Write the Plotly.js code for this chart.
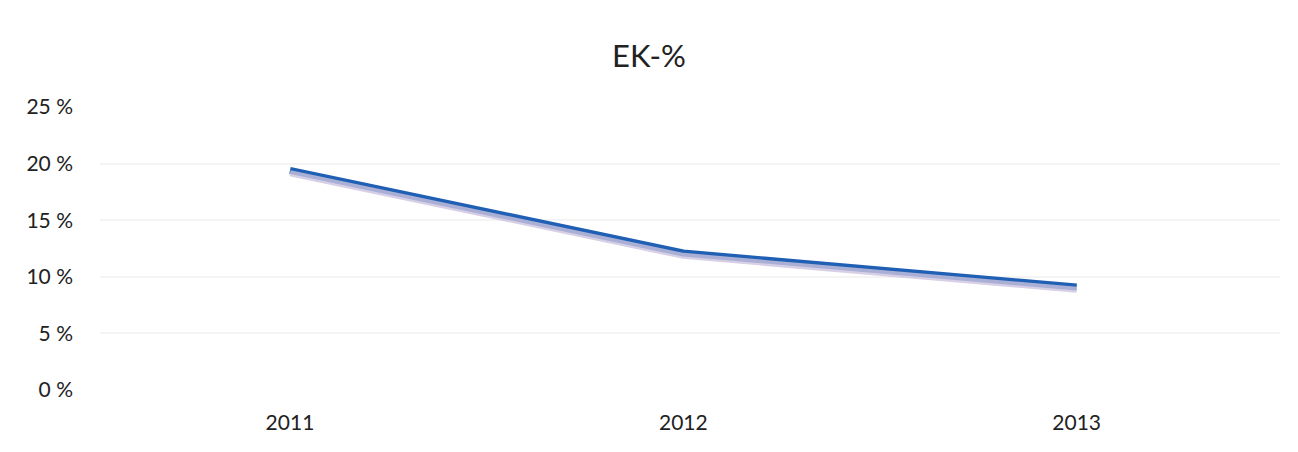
<!DOCTYPE html>
<html>
<head>
<meta charset="utf-8">
<script src="https://cdn.plot.ly/plotly-3.0.1.min.js"></script>
<style>html,body{margin:0;padding:0;background:#fff;}#chart{width:1298px;height:452px;}</style>
</head>
<body>
<div id="chart"></div>
<script>
const years = ["2011", "2012", "2013"];
const ekPercent = [19.4, 12.1, 9.1];
const yTickVals = [0, 5, 10, 15, 20, 25];
const yTickText = ["0 %", "5 %", "10 %", "15 %", "20 %", "25 %"];

const fontFam = "Lato, 'Open Sans', sans-serif";

const shadow = {
  x: years, y: ekPercent, type: "scatter", mode: "lines",
  line: {color: "rgba(205,195,222,0.8)", width: 6},
  xaxis: "x", yaxis: "y2", hoverinfo: "skip", showlegend: false
};
const main = {
  x: years, y: ekPercent, type: "scatter", mode: "lines",
  line: {color: "#1f5fb4", width: 7},
  showlegend: false
};

const layout = {
  width: 1298, height: 452,
  margin: {l: 100, r: 18, t: 107, b: 62},
  paper_bgcolor: "#fff", plot_bgcolor: "#fff",
  title: {text: "EK-%", x: 0.5, xanchor: "center", y: 0.875, yanchor: "middle",
          font: {family: fontFam, size: 31, color: "#222"}},
  xaxis: {
    type: "category", range: [-0.483, 2.517],
    showgrid: false, zeroline: false, showline: false, ticks: "",
    tickfont: {family: fontFam, size: 21, color: "#222"},
    ticklabelstandoff: 18
  },
  yaxis: {
    range: [0, 25], tickvals: yTickVals, ticktext: yTickText,
    showgrid: true, gridcolor: "#f4f4f4", gridwidth: 2,
    zeroline: false, showline: false, ticks: "",
    tickfont: {family: fontFam, size: 21, color: "#222"},
    ticklabelstandoff: 26
  },
  yaxis2: {
    overlaying: "y", range: [0.25, 25.25], visible: false, showgrid: false
  }
};

Plotly.newPlot("chart", [shadow, main], layout, {staticPlot: true, displayModeBar: false});
</script>
</body>
</html>
